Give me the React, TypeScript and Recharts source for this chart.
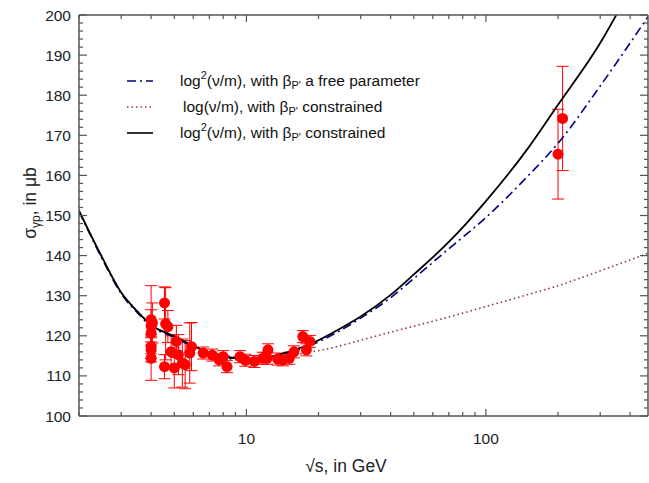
import React from "react"
import { ComposedChart, ErrorBar, Line, Scatter, XAxis, YAxis } from "recharts"

// curve samples (sqrt(s) in GeV -> sigma in microbarn)
const curveX = [2, 2.5, 3, 3.5, 4, 5, 6, 7, 8, 10, 12, 15, 20, 25, 30, 40, 50, 70, 100, 150, 200, 300, 400, 475]
const log2ConstrainedY = [151.2, 139.5, 130.8, 126.1, 122.7, 119.9, 117.5, 115.8, 114.9, 114.2, 114.5, 116.0, 118.9, 122.0, 124.8, 130.2, 135.3, 143.4, 153.6, 166.8, 177.6, 193.0, 206.4, 215.0]
const log2FreeY = [151.0, 139.2, 130.5, 125.8, 122.4, 119.6, 117.2, 115.5, 114.6, 113.9, 114.2, 115.6, 118.5, 121.5, 124.4, 129.5, 134.3, 141.7, 149.5, 159.9, 168.0, 182.3, 193.0, 199.6]
const logConstrainedY = [151.3, 139.6, 130.9, 126.2, 122.8, 119.8, 117.5, 116.0, 115.2, 114.6, 114.6, 115.1, 116.3, 117.6, 118.9, 120.9, 122.4, 124.7, 127.3, 130.3, 132.5, 136.2, 138.9, 140.6]

// measured cross sections
const pointX = [4.0, 4.0, 4.0, 4.0, 4.0, 4.0, 4.05, 4.55, 4.55, 4.6, 4.7, 4.85, 5.0, 5.1, 5.2, 5.4, 5.55, 5.8, 5.9, 6.6, 7.2, 7.7, 8.0, 8.3, 9.4, 9.9, 10.8, 11.7, 12.2, 12.3, 13.5, 14.2, 15.1, 15.8, 17.2, 17.8, 18.4, 200, 209]
const pointY = [124.0, 122.5, 120.7, 117.3, 116.5, 114.4, 123.2, 128.2, 112.3, 123.0, 122.3, 116.0, 112.0, 118.6, 115.3, 113.2, 112.8, 115.7, 117.3, 115.7, 115.2, 114.0, 114.8, 112.3, 114.8, 113.9, 113.6, 114.4, 114.4, 116.5, 114.2, 114.0, 114.4, 116.0, 119.8, 116.5, 118.6, 165.3, 174.2]
const pointErr = [8.5, 4, 3, 3, 3, 5.5, 5, 4, 3, 9, 4, 4, 5, 4, 5, 6, 6, 7.5, 6, 1.5, 1.5, 1.5, 1.5, 1.5, 1.5, 1.5, 1.5, 1.5, 1.5, 1.5, 1.5, 1.5, 1.5, 1.5, 1.5, 1.5, 1.5, 11.2, 13]

const xTicks = [2, 3, 4, 5, 6, 7, 8, 9, 10, 20, 30, 40, 50, 60, 70, 80, 90, 100, 200, 300, 400]
const xLabels = [10, 100]
const yLabels = [100, 110, 120, 130, 140, 150, 160, 170, 180, 190, 200]
const yTicks = Array.from({ length: 51 }, (_, i) => 100 + i * 2)

const toRows = (ys: number[]) => curveX.map((x, i) => ({ x, y: ys[i] }))
const freeData = toRows(log2FreeY)
const logData = toRows(logConstrainedY)
const log2Data = toRows(log2ConstrainedY)
const points = pointX.map((x, i) => ({ x, y: pointY[i], err: pointErr[i] }))

const FONT = "'Liberation Sans', Arial, sans-serif"
const AXIS = "#555"

const BottomTick = ({ x, y, payload }: any) => {
  const major = xLabels.includes(payload.value)
  return (
    <g>
      <line x1={x} x2={x} y1={y} y2={y - (major ? 7 : 4)} stroke={AXIS} strokeWidth={1.2} />
      {major && (
        <text x={x} y={y + 28} textAnchor="middle" fontFamily={FONT} fontSize={15.5} fill="#222">
          {payload.value}
        </text>
      )}
    </g>
  )
}

const TopTick = ({ x, y, payload }: any) => {
  const major = xLabels.includes(payload.value)
  return <line x1={x} x2={x} y1={y} y2={y + (major ? 7 : 4)} stroke={AXIS} strokeWidth={1.2} />
}

const LeftTick = ({ x, y, payload }: any) => {
  const major = yLabels.includes(payload.value)
  return (
    <g>
      <line x1={x} x2={x + (major ? 8 : 4)} y1={y} y2={y} stroke={AXIS} strokeWidth={1.2} />
      {major && (
        <text x={x - 8} y={y + 5.5} textAnchor="end" fontFamily={FONT} fontSize={15.5} fill="#222">
          {payload.value}
        </text>
      )}
    </g>
  )
}

const RightTick = ({ x, y, payload }: any) => {
  const major = yLabels.includes(payload.value)
  return <line x1={x} x2={x - (major ? 8 : 4)} y1={y} y2={y} stroke={AXIS} strokeWidth={1.2} />
}

const YTitle = () => (
  <text transform="translate(36,203) rotate(-90)" textAnchor="middle" fontFamily={FONT} fontSize={17.5} fill="#222">
    <tspan>σ</tspan>
    <tspan dy={4} fontSize={12}>γp</tspan>
    <tspan dy={-4}>, in μb</tspan>
  </text>
)

const XTitle = () => (
  <text x={346} y={472} textAnchor="middle" fontFamily={FONT} fontSize={17.5} fill="#222">
    √s, in GeV
  </text>
)

const LegendBox = () => {
  const rows = [
    { y: 81, tx: 180, dash: "9 4 2 4", color: "#000080", sq: true, rest: " a free parameter" },
    { y: 107, tx: 183, dash: "1.5 3", color: "#8b3a3a", sq: false, rest: " constrained" },
    { y: 133, tx: 180, dash: undefined, color: "#000", sq: true, rest: " constrained" },
  ]
  return (
    <svg width={649} height={483} style={{ position: "absolute", left: 0, top: 0, pointerEvents: "none" }}>
      {rows.map((r) => (
        <g key={r.y}>
          <line x1={127} x2={153} y1={r.y} y2={r.y} stroke={r.color} strokeWidth={1.6} strokeDasharray={r.dash} />
          <text x={r.tx} y={r.y + 5} fontFamily={FONT} fontSize={15.5} fill="#111">
            <tspan>log</tspan>
            {r.sq && (
              <tspan dy={-7} fontSize={11}>
                2
              </tspan>
            )}
            <tspan dy={r.sq ? 7 : 0}>(ν/m), with β</tspan>
            <tspan dy={3} fontSize={11}>
              P'
            </tspan>
            <tspan dy={-3}>{r.rest}</tspan>
          </text>
        </g>
      ))}
    </svg>
  )
}

export default function App() {
  return (
    <div style={{ position: "absolute", left: 0, top: 0, width: 649, height: 483, background: "#fff" }}>
      <ComposedChart width={649} height={483} margin={{ top: 14, right: 0, bottom: 0, left: 0 }}>
        <XAxis
          dataKey="x"
          type="number"
          scale="log"
          domain={[2, 475]}
          allowDataOverflow
          ticks={xTicks}
          interval={0}
          tickSize={0}
          tickMargin={0}
          tick={<BottomTick />}
          height={67}
          axisLine={{ stroke: AXIS, strokeWidth: 1.5 }}
          label={<XTitle />}
        />
        <XAxis
          xAxisId="top"
          orientation="top"
          dataKey="x"
          type="number"
          scale="log"
          domain={[2, 475]}
          allowDataOverflow
          ticks={xTicks}
          interval={0}
          tickSize={0}
          tickMargin={0}
          tick={<TopTick />}
          height={1}
          axisLine={{ stroke: AXIS, strokeWidth: 1.5 }}
        />
        <YAxis
          dataKey="y"
          type="number"
          domain={[100, 200]}
          allowDataOverflow
          ticks={yTicks}
          interval={0}
          tickSize={0}
          tickMargin={0}
          tick={<LeftTick />}
          width={79}
          axisLine={{ stroke: AXIS, strokeWidth: 1.5 }}
          label={<YTitle />}
        />
        <YAxis
          yAxisId="right"
          orientation="right"
          dataKey="y"
          type="number"
          domain={[100, 200]}
          allowDataOverflow
          ticks={yTicks}
          interval={0}
          tickSize={0}
          tickMargin={0}
          tick={<RightTick />}
          width={1}
          axisLine={{ stroke: AXIS, strokeWidth: 1.5 }}
        />
        <Scatter
          data={points}
          isAnimationActive={false}
          shape={(p: any) => <circle cx={p.cx} cy={p.cy} r={5.5} fill="#ff0000" />}
        >
          <ErrorBar dataKey="err" direction="y" width={6} stroke="#ff0000" strokeWidth={1} />
        </Scatter>
        <Line data={freeData} dataKey="y" type="monotone" stroke="#000080" strokeWidth={1.6} strokeDasharray="9 4 2 4" dot={false} activeDot={false} isAnimationActive={false} />
        <Line data={logData} dataKey="y" type="monotone" stroke="#8b3a3a" strokeWidth={1.6} strokeDasharray="1.5 3" dot={false} activeDot={false} isAnimationActive={false} />
        <Line data={log2Data} dataKey="y" type="monotone" stroke="#000" strokeWidth={1.8} dot={false} activeDot={false} isAnimationActive={false} />
      </ComposedChart>
      <LegendBox />
    </div>
  )
}
